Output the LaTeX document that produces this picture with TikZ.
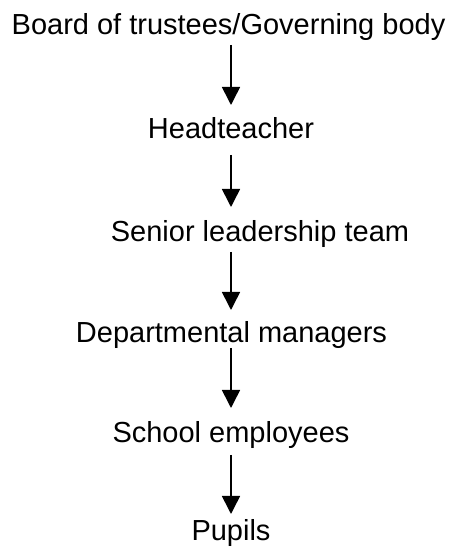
\documentclass[tikz,border=0pt]{standalone}
\usepackage{fontspec}
\setmainfont{Liberation Sans}
\usetikzlibrary{arrows.meta}
\begin{document}
\begin{tikzpicture}[x=1pt,y=1pt,
  lbl/.style={anchor=base,inner sep=0pt,font=\fontsize{29}{34}\selectfont},
  arr/.style={line width=1.6pt,-{Triangle[width=18pt,length=18pt]}}]
\useasboundingbox (0,0) rectangle (453,547);
\node[lbl] (board) at (228.5,512) {Board of trustees/Governing body};
\node[lbl] (head) at (231,408) {Headteacher};
\node[lbl] (slt) at (260,305) {Senior leadership team};
\node[lbl] (dept) at (231.5,204) {Departmental managers};
\node[lbl] (staff) at (231,104) {School employees};
\node[lbl] (pupils) at (231,6.5) {Pupils};
\coordinate (s1) at (231,502); \coordinate (e1) at (231,442);
\coordinate (s2) at (231,392); \coordinate (e2) at (231,340);
\coordinate (s3) at (231,295); \coordinate (e3) at (231,237);
\coordinate (s4) at (231,199); \coordinate (e4) at (231,139);
\coordinate (s5) at (231,92);  \coordinate (e5) at (231,33);
\draw[arr] (s1) -- (e1);
\draw[arr] (s2) -- (e2);
\draw[arr] (s3) -- (e3);
\draw[arr] (s4) -- (e4);
\draw[arr] (s5) -- (e5);
\end{tikzpicture}
\end{document}
